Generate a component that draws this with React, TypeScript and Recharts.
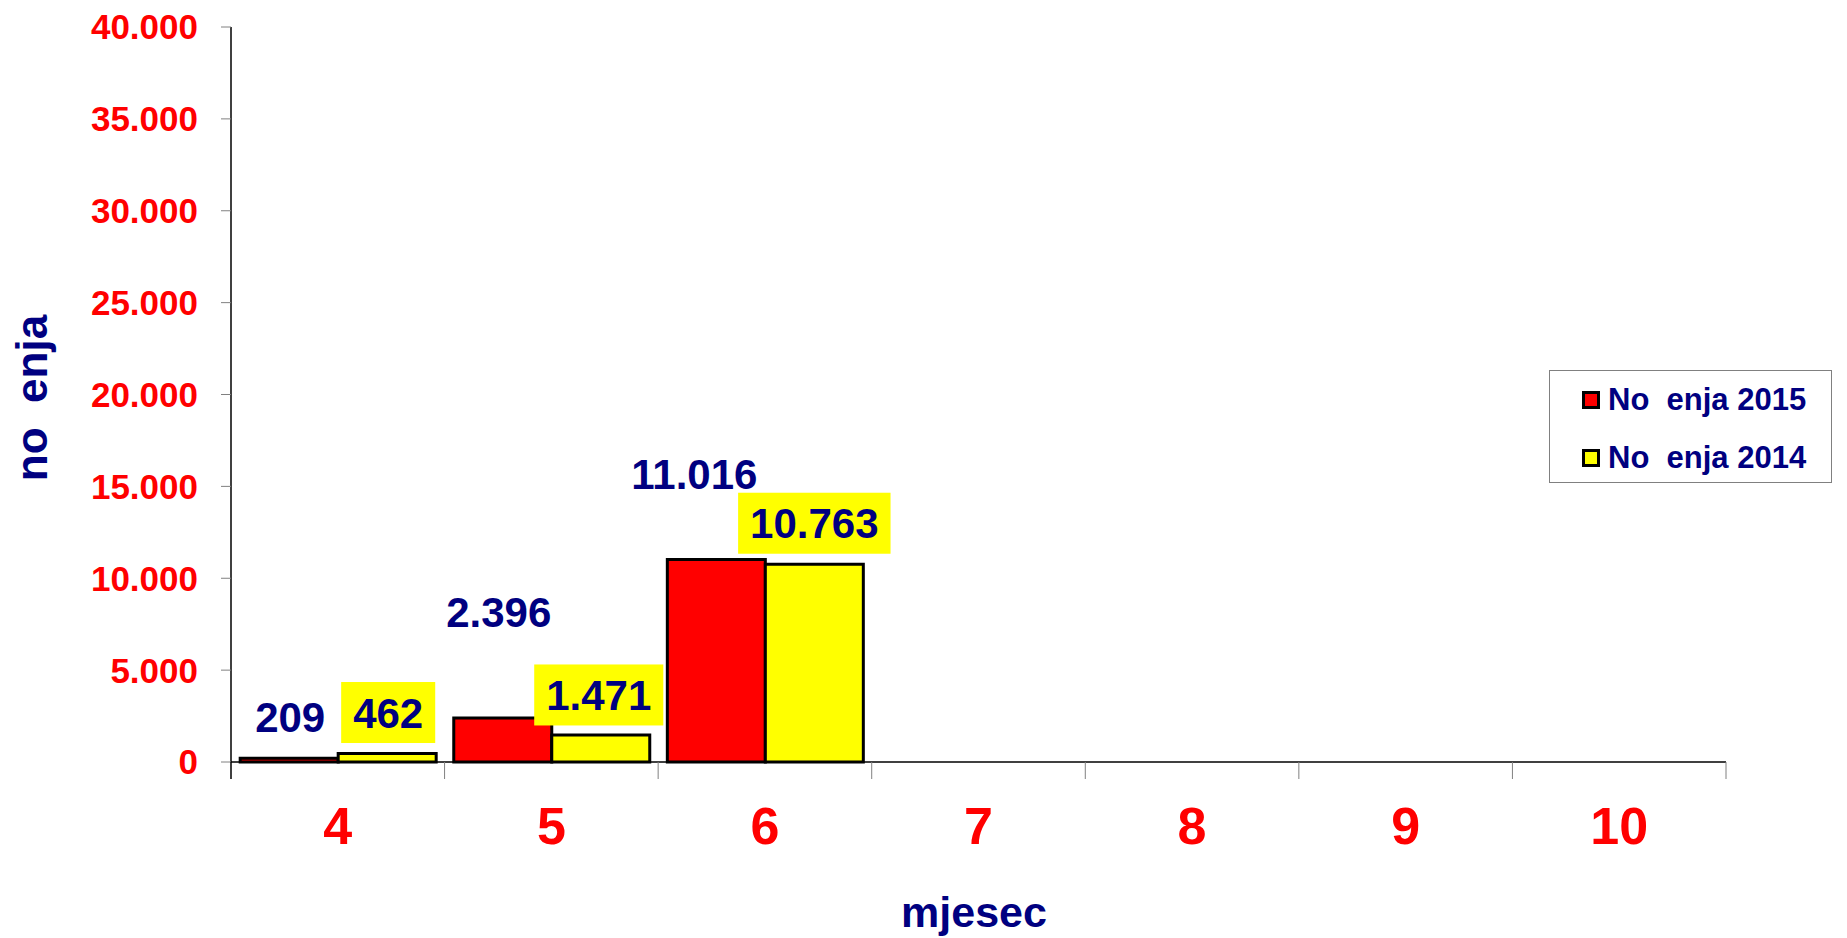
import { BarChart, Bar, XAxis, YAxis, LabelList } from 'recharts';

// months on the x axis
const months = ['4', '5', '6', '7', '8', '9', '10'];
// overnight stays per month
const nocenja2015 = [209, 2396, 11016, null, null, null, null];
const nocenja2014 = [462, 1471, 10763, null, null, null, null];
const yTicks = [0, 5000, 10000, 15000, 20000, 25000, 30000, 35000, 40000];

// hand placed label offsets (dx, dy from top centre of the bar)
const shift2015 = [[1, -41], [-4, -106], [-22, -86]];
const shift2014 = [[1, -41], [-2, -40], [0, -41]];

const FONT = '"Liberation Sans", Arial, sans-serif';
const NAVY = '#000080';
const RED = '#FF0000';
const YELLOW = '#FFFF00';

const chartData = months.map((m, i) => ({
  month: m,
  y2015: nocenja2015[i],
  y2014: nocenja2014[i],
}));

const fmt = (n: number) => String(n).replace(/\B(?=(\d{3})+(?!\d))/g, '.');

// rough arial bold width
const textWidth = (s: string, size: number) =>
  s.split('').reduce((w, c) => w + (c === '.' ? 0.278 : 0.556), 0) * size;

function RedLabel(props: any) {
  const { x, y, width, value, index } = props;
  if (value == null) return null;
  const [dx, dy] = shift2015[index] || [0, -41];
  const cx = Number(x) + Number(width) / 2 + dx;
  const cy = Number(y) + dy;
  return (
    <text x={cx} y={cy + 15} textAnchor="middle" fill={NAVY}
      fontFamily={FONT} fontWeight="bold" fontSize={42}>
      {fmt(value)}
    </text>
  );
}

function YellowLabel(props: any) {
  const { x, y, width, value, index } = props;
  if (value == null) return null;
  const [dx, dy] = shift2014[index] || [0, -41];
  const cx = Number(x) + Number(width) / 2 + dx;
  const cy = Number(y) + dy;
  const label = fmt(value);
  const w = textWidth(label, 42) + 24;
  return (
    <g>
      <rect x={cx - w / 2} y={cy - 30.5} width={w} height={61} fill={YELLOW} />
      <text x={cx} y={cy + 15} textAnchor="middle" fill={NAVY}
        fontFamily={FONT} fontWeight="bold" fontSize={42}>
        {label}
      </text>
    </g>
  );
}

function MonthTick(props: any) {
  const { x, y, payload, index } = props;
  const half = payload.offset || 106.8;
  const last = index === months.length - 1;
  return (
    <g>
      <line x1={x - half} y1={y} x2={x - half} y2={y + 17}
        stroke={index === 0 ? '#000' : '#808080'} strokeWidth={index === 0 ? 1.5 : 1} />
      {last && <line x1={x + half} y1={y} x2={x + half} y2={y + 17} stroke="#808080" />}
      <text x={x} y={y + 82} textAnchor="middle" fill={RED}
        fontFamily={FONT} fontWeight="bold" fontSize={52}>
        {payload.value}
      </text>
    </g>
  );
}

function YTitle() {
  return (
    <text x={47} y={398} transform="rotate(-90 47 398)" textAnchor="middle"
      fill={NAVY} fontFamily={FONT} fontWeight="bold" fontSize={44}
      style={{ whiteSpace: 'pre' }}>
      {'no\u00a0\u00a0enja'}
    </text>
  );
}

function XTitle() {
  return (
    <text x={974} y={927} textAnchor="middle" fill={NAVY}
      fontFamily={FONT} fontWeight="bold" fontSize={43}>
      mjesec
    </text>
  );
}

const legendItems = [
  { label: 'No\u00a0\u00a0enja 2015', color: RED },
  { label: 'No\u00a0\u00a0enja 2014', color: YELLOW },
];

export default function App() {
  return (
    <div style={{ position: 'absolute', left: 0, top: 0, width: 1847, height: 938, background: '#fff' }}>
      <BarChart
        width={1847}
        height={938}
        data={chartData}
        margin={{ top: 27, right: 121, left: 0, bottom: 0 }}
        barCategoryGap="4.3%"
        barGap={0}
      >
        <YAxis
          width={231}
          domain={[0, 40000]}
          ticks={yTicks}
          interval={0}
          tickFormatter={fmt}
          axisLine={{ stroke: '#000', strokeWidth: 1.5 }}
          tickLine={{ stroke: '#808080' }}
          tickSize={10}
          tickMargin={23}
          tick={{ fill: RED, fontSize: 35, fontWeight: 'bold', fontFamily: FONT }}
          label={<YTitle />}
        />
        <XAxis
          dataKey="month"
          height={176}
          interval={0}
          axisLine={{ stroke: '#000', strokeWidth: 1.5 }}
          tickLine={false}
          tickSize={0}
          tickMargin={0}
          tick={<MonthTick />}
          label={<XTitle />}
        />
        <Bar dataKey="y2015" fill={RED} stroke="#000" strokeWidth={3} isAnimationActive={false}>
          <LabelList dataKey="y2015" content={<RedLabel />} />
        </Bar>
        <Bar dataKey="y2014" fill={YELLOW} stroke="#000" strokeWidth={3} isAnimationActive={false}>
          <LabelList dataKey="y2014" content={<YellowLabel />} />
        </Bar>
      </BarChart>
      <div style={{
        position: 'absolute', left: 1549, top: 370, width: 283, height: 113,
        border: '1px solid #808080', background: '#fff', boxSizing: 'border-box',
      }}>
        {legendItems.map((item, i) => (
          <div key={item.label} style={{
            position: 'absolute', left: 32, top: 29 + i * 58 - 18, height: 36,
            display: 'flex', alignItems: 'center',
          }}>
            <span style={{
              width: 18, height: 18, boxSizing: 'border-box', background: item.color,
              border: '3px solid #000', marginRight: 8,
            }} />
            <span style={{
              fontFamily: FONT, fontWeight: 'bold', fontSize: 31, color: NAVY,
              whiteSpace: 'pre', lineHeight: '36px',
            }}>{item.label}</span>
          </div>
        ))}
      </div>
    </div>
  );
}
